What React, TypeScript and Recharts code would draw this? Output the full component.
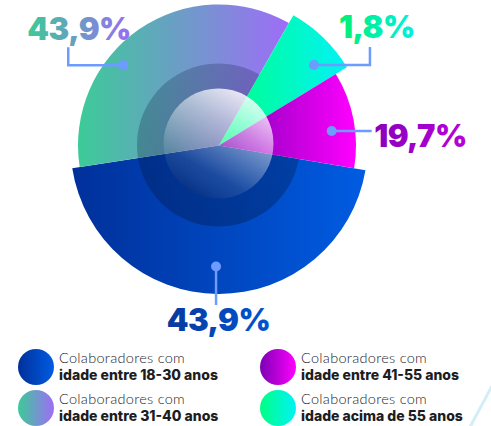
import { PieChart, Pie, Cell, Legend } from 'recharts'

// order of the slices around the circle (counter-clockwise from the left)
const groups = ['idade entre 18-30 anos', 'idade entre 41-55 anos', 'idade acima de 55 anos', 'idade entre 31-40 anos']
const percentLabels = ['43,9%', '19,7%', '1,8%', '43,9%']
// slice sizes as drawn in the reference (share of the full circle)
const sliceShares = [44.9, 11.4, 8.0, 35.7]
const legendOrder = [0, 3, 1, 2]

const data = groups.map((g, i) => ({ name: g, value: sliceShares[i] }))

// layout
const CX = 219
const CY = 145.5
const START = 188.8
const sliceRadius = [148.5, 137, 150, 141]
const gradIds = ['gBlue', 'gMag', 'gGreen', 'gTeal']
const gradStops: [string, string][] = [
  ['#00309a', '#005ce2'],
  ['#7c00b4', '#ff00ff'],
  ['#00ff84', '#00f3f6'],
  ['#3ccb98', '#9f6cf8'],
]
const textStops: [string, string][] = [
  ['#083a9e', '#0054d4'],
  ['#8a00bc', '#b800dc'],
  ['#00f070', '#00f0e6'],
  ['#3cca96', '#9a6cf6'],
]
const dotAngle = [268.6, 7.3, 40.3, 140]
const dotRadius = [121, 113.6, 124.5, 125]
const leaders = [
  [[0, 0], [0, 38.5]],
  [[0, 0], [40, 0]],
  [[0, 0], [56, 0], [56, -18]],
  [[0, 0], [-55, 0], [-55, -18]],
]
const textPos = [
  { dx: 2.5, dy: 64.5, anchor: 'middle' },
  { dx: 42.5, dy: 15.5, anchor: 'start' },
  { dx: 25, dy: -27, anchor: 'start' },
  { dx: -96, dy: -25, anchor: 'start' },
]
const LINE = '#6d9bff'
const RAD = Math.PI / 180

function SliceLabel(props: any) {
  const i = props.index
  const x = props.cx + dotRadius[i] * Math.cos(dotAngle[i] * RAD)
  const y = props.cy - dotRadius[i] * Math.sin(dotAngle[i] * RAD)
  const pts = leaders[i].map(p => `${x + p[0]},${y + p[1]}`).join(' ')
  return (
    <g>
      <polyline points={pts} fill="none" stroke={LINE} strokeWidth={2.5} />
      <circle cx={x} cy={y} r={5} fill={LINE} />
      <text
        x={x + textPos[i].dx}
        y={y + textPos[i].dy}
        textAnchor={textPos[i].anchor as any}
        fill={`url(#t${i})`}
        fontFamily="Inter, sans-serif"
        fontWeight={900}
        fontSize={31}
        letterSpacing={-0.5}
      >
        {percentLabels[i]}
      </text>
    </g>
  )
}

function slicePie(k: number) {
  return (
    <Pie
      key={`s${k}`}
      data={data}
      dataKey="value"
      cx={CX}
      cy={CY}
      innerRadius={0}
      outerRadius={sliceRadius[k]}
      startAngle={START}
      endAngle={START + 360}
      stroke="none"
      isAnimationActive={false}
    >
      {data.map((d, i) => <Cell key={i} fill={i === k ? `url(#${gradIds[k]})` : 'transparent'} />)}
    </Pie>
  )
}

function LegendBlock() {
  return (
    <div style={{ position: 'relative', width: 491, height: 86, color: '#1d1d1f' }}>
      {legendOrder.map((k, n) => {
        const col = Math.floor(n / 2)
        const row = n % 2
        const left = col === 0 ? 18 : 260
        const top = row === 0 ? 9 : 50
        return (
          <div key={k} style={{ position: 'absolute', left, top }}>
            <div style={{
              position: 'absolute', left: 0, top: 0, width: 36, height: 36, borderRadius: '50%',
              background: `linear-gradient(90deg, ${gradStops[k][0]}, ${gradStops[k][1]})`,
            }} />
            <div style={{ position: 'absolute', left: 41, top: 0, whiteSpace: 'nowrap', lineHeight: '17px' }}>
              <div style={{ fontSize: 14.5, fontWeight: 300, fontFamily: 'Lato, sans-serif', letterSpacing: 0.3 }}>Colaboradores com</div>
              <div style={{ fontSize: 14, fontWeight: 800, fontFamily: 'Inter, sans-serif', letterSpacing: 0 }}>{groups[k]}</div>
            </div>
          </div>
        )
      })}
      <svg width={491} height={86} style={{ position: 'absolute', left: 0, top: 0 }}>
        <line x1={492} y1={46} x2={470} y2={87} stroke="#d3eef6" strokeWidth={3} />
      </svg>
    </div>
  )
}

export default function App() {
  return (
    <div style={{ position: 'absolute', left: 0, top: 0, width: 491, height: 426, background: '#fff' }}>
      <PieChart width={491} height={426} margin={{ top: 0, right: 0, bottom: 0, left: 0 }}>
        <defs>
          {gradIds.map((id, i) => (
            <linearGradient key={id} id={id} x1="0" y1="0" x2="1" y2="0">
              <stop offset="0%" stopColor={gradStops[i][0]} />
              <stop offset="100%" stopColor={gradStops[i][1]} />
            </linearGradient>
          ))}
          {textStops.map((s, i) => (
            <linearGradient key={i} id={`t${i}`} x1="0" y1="0" x2="1" y2="0">
              <stop offset="0%" stopColor={s[0]} />
              <stop offset="100%" stopColor={s[1]} />
            </linearGradient>
          ))}
          <linearGradient id="ringShade" x1="0.3" y1="0" x2="0.5" y2="1">
            <stop offset="0%" stopColor="#001030" stopOpacity={0.22} />
            <stop offset="100%" stopColor="#000820" stopOpacity={0.28} />
          </linearGradient>
          <linearGradient id="glow" x1="0.8" y1="0" x2="0.25" y2="1">
            <stop offset="0%" stopColor="#ffffff" stopOpacity={0.92} />
            <stop offset="35%" stopColor="#ffffff" stopOpacity={0.5} />
            <stop offset="75%" stopColor="#ffffff" stopOpacity={0.1} />
            <stop offset="100%" stopColor="#000020" stopOpacity={0.15} />
          </linearGradient>
        </defs>
        {slicePie(0)}
        {slicePie(3)}
        <Pie data={[{ v: 1 }]} dataKey="v" cx={218.5} cy={145} outerRadius={81.5} stroke="none" fill="url(#ringShade)" isAnimationActive={false} />
        {slicePie(2)}
        {slicePie(1)}
        <Pie data={[{ v: 1 }]} dataKey="v" cx={218.5} cy={143.5} outerRadius={55} stroke="none" fill="url(#glow)" isAnimationActive={false} />
        <Pie
          data={data}
          dataKey="value"
          cx={CX}
          cy={CY}
          outerRadius={1}
          startAngle={START}
          endAngle={START + 360}
          fill="none"
          stroke="none"
          label={SliceLabel}
          labelLine={false}
          isAnimationActive={false}
        />
        <Legend
          content={() => <LegendBlock />}
          wrapperStyle={{ position: 'absolute', left: 0, top: 340, width: 491, height: 86 }}
        />
      </PieChart>
    </div>
  )
}
